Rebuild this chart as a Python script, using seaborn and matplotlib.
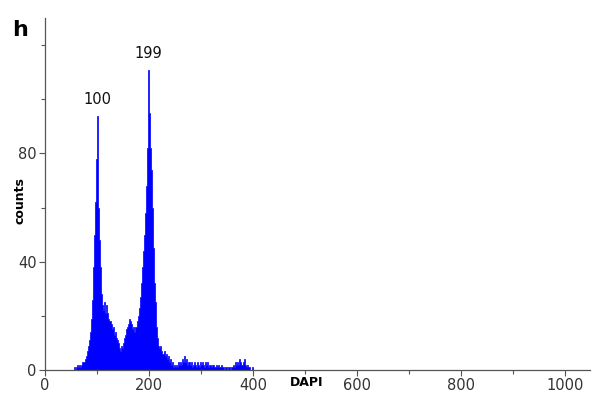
import numpy as np
import matplotlib
matplotlib.use("Agg")
import matplotlib.pyplot as plt
import seaborn as sns
from matplotlib.ticker import MultipleLocator, FixedLocator

# DAPI histogram, channel bins of width 2 starting at 56
bin_start = 56
bin_width = 2
counts = [
    1, 0, 1, 2, 1, 2, 1, 2, 3, 3,                      # 56-74
    4, 5, 7, 9, 11, 14, 19,                            # 76-88
    26, 38, 50, 62, 78,                                # 90-98
    94, 60, 48, 38, 28, 24, 22, 25, 21, 24,            # 100-118
    21, 19, 18, 17, 15, 16, 13, 14, 12, 11,            # 120-138
    10, 8, 7, 9, 8, 10, 12, 13, 15, 16,                # 140-158
    17, 19, 18, 17, 15, 16, 14, 16, 18, 20,            # 160-178
    23, 27, 32, 38, 44, 50, 58, 68, 82, 111,           # 180-198
    95, 82, 74, 60, 45, 32, 25, 16, 12, 9,             # 200-218
    8, 9, 7, 6, 7, 5, 6, 4, 5, 3,                      # 220-238
    4, 2, 3, 1, 2,                                     # 240-248
    1, 2, 1, 3, 2, 3, 2, 4, 3, 5,                      # 250-268
    3, 4, 2, 3, 2, 3, 1, 2, 3, 2,                      # 270-288
    1, 3, 2, 1, 3, 2, 3, 2, 1, 3,                      # 290-308
    2, 3, 1, 2, 2, 1, 2, 2, 1, 2,                      # 310-328
    1, 2, 1, 1, 2, 1, 1, 0, 1, 1,                      # 330-348
    0, 1, 1, 0, 1, 1, 2, 1, 3, 2,                      # 350-368
    3, 2, 4, 3, 2, 3, 4, 2, 1, 2,                      # 370-388
    1, 1, 0, 0, 1,                                     # 390-398
]
channels = [bin_start + bin_width * i for i in range(len(counts))]
peak_labels = [100, 199]
peak_heights = [94, 111]
y_labelled = [0, 40, 80]
y_minor = [20, 60, 100, 120]

fig = plt.figure(figsize=(5.94, 3.94), dpi=100)
ax = fig.add_axes([0.0758, 0.0609, 0.917, 0.893])

sns.histplot(x=channels, weights=counts, binwidth=bin_width,
             binrange=(bin_start, bin_start + bin_width * len(counts)),
             element="step", fill=True, color="#0000ff", alpha=1,
             linewidth=0.5, edgecolor="#0000ff", ax=ax)

ax.set_xlim(0, 1048)
ax.set_ylim(0, 130)
ax.xaxis.set_major_locator(MultipleLocator(200))
ax.xaxis.set_minor_locator(MultipleLocator(100))
ax.yaxis.set_major_locator(FixedLocator(y_labelled))
ax.yaxis.set_minor_locator(FixedLocator(y_minor))
ax.tick_params(which="both", direction="out", color="#555555", width=0.8,
               labelsize=10.5, labelcolor="#333333", pad=2)
ax.tick_params(which="major", length=4)
ax.tick_params(which="minor", length=3)
for s in ["top", "right"]:
    ax.spines[s].set_visible(False)
for s in ["left", "bottom"]:
    ax.spines[s].set_color("#555555")
    ax.spines[s].set_linewidth(0.9)

ax.set_xlabel("")
ax.set_ylabel("")

for lab, h in zip(peak_labels, peak_heights):
    ax.text(lab, h + 3, str(lab), ha="center", va="bottom", fontsize=10.5,
            color="#111111")

fig.text(0.034, 0.49, "counts", rotation=90, ha="center", va="center",
         fontsize=9, fontweight="bold")
fig.text(0.517, 0.03, "DAPI", ha="center", va="center",
         fontsize=9, fontweight="bold")
fig.text(0.02, 0.925, "h", ha="left", va="center", fontsize=16,
         fontweight="bold")

fig.savefig("out.png", dpi=100)
